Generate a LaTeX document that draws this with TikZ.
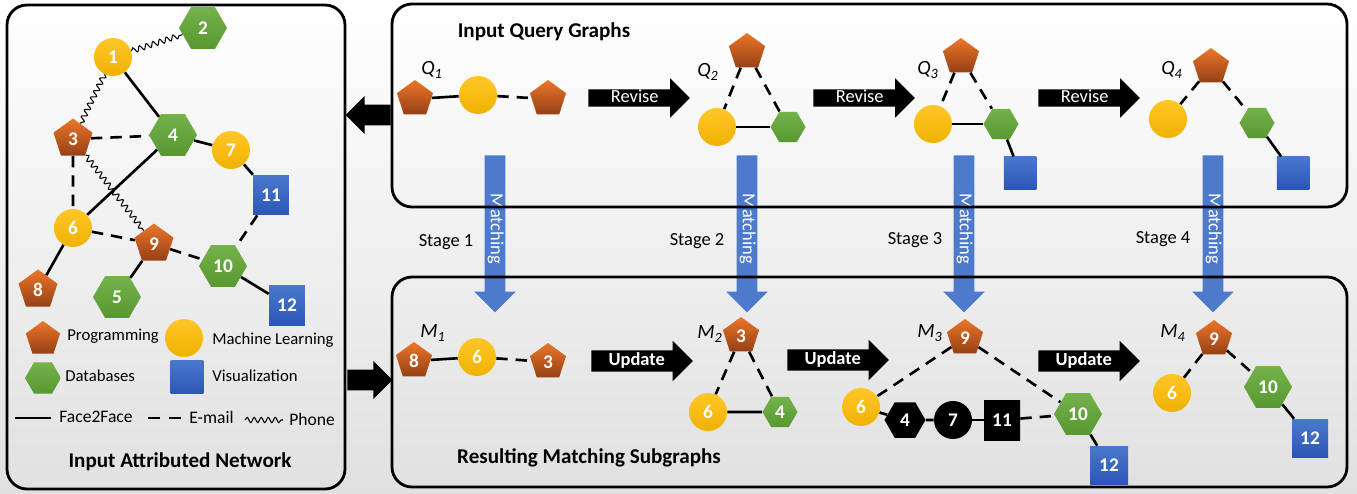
\documentclass[tikz,border=0pt]{standalone}
\usepackage{fontspec}
\setmainfont{Carlito}
\usetikzlibrary{shapes.geometric,shapes.arrows,decorations.pathmorphing}

\definecolor{progA}{RGB}{236,118,40}
\definecolor{progB}{RGB}{150,64,22}
\definecolor{mlA}{RGB}{255,198,40}
\definecolor{mlB}{RGB}{240,178,0}
\definecolor{dbA}{RGB}{116,178,74}
\definecolor{dbB}{RGB}{88,152,48}
\definecolor{visA}{RGB}{74,120,206}
\definecolor{visB}{RGB}{44,86,182}
\definecolor{matchA}{RGB}{78,122,204}
\definecolor{matchB}{RGB}{44,90,190}

\tikzset{
  num/.style={text=white, inner sep=0pt, font=\fontsize{11}{12}\selectfont\bfseries},
  pent/.style={regular polygon, regular polygon sides=5, minimum size=#1, num, top color=progA, bottom color=progB},
  pent/.default=7.6mm,
  ball/.style={circle, minimum size=#1, num, top color=mlA, bottom color=mlB},
  ball/.default=7.6mm,
  hexa/.style={regular polygon, regular polygon sides=6, minimum size=#1, num, top color=dbA, bottom color=dbB},
  hexa/.default=9.6mm,
  sq/.style={rectangle, minimum width=#1, minimum height=#1, num, top color=visA, bottom color=visB},
  sq/.default=7.2mm,
  darknode/.style={top color=black, bottom color=black},
  f2f/.style={line width=1.5pt},
  mail/.style={line width=1.5pt, dash pattern=on 6.5pt off 4.5pt},
  phone/.style={line width=0.6pt, decorate, decoration={snake, amplitude=1.5pt, segment length=4pt}},
  panel/.style={line width=1.6pt, rounded corners=4mm},
  qlab/.style={font=\fontsize{11.5}{13}\selectfont\itshape},
  titletext/.style={font=\fontsize{12}{14}\selectfont\bfseries},
  stagetext/.style={font=\fontsize{10.5}{12}\selectfont},
  legtext/.style={anchor=west, inner sep=0pt, font=\fontsize{9.5}{11}\selectfont},
  blockarrow/.style={single arrow, fill=black, text=white, anchor=tail, minimum height=20.3mm, inner xsep=2pt},
  revarrow/.style={blockarrow, inner ysep=1pt, text height=6.5pt, text depth=1pt, single arrow head extend=2.2mm, font=\fontsize{10.5}{12}\selectfont},
  updarrow/.style={blockarrow, inner ysep=1.3pt, text height=7pt, text depth=2.2pt, single arrow head extend=1.9mm, font=\fontsize{10.5}{12}\selectfont\bfseries},
  matcharrow/.style={single arrow, rotate=-90, anchor=tail, fill=matchA, text=white, minimum height=31.4mm, inner xsep=2pt, inner ysep=1pt, text height=7pt, text depth=2.3pt, single arrow head extend=2.1mm, font=\fontsize{10.5}{12}\selectfont},
  gaparrow/.style={single arrow, fill=black, anchor=tail, minimum height=9mm, inner xsep=0pt, inner ysep=2mm, single arrow head extend=1.7mm}
}

\begin{document}
\begin{tikzpicture}[x=0.02cm, y=-0.02cm]
  \useasboundingbox (0,0) rectangle (1357,494);
  \fill[top color=white, bottom color=gray!24] (0,0) rectangle (1357,494);

  % attributed network
  \node[ball] (a1) at (113,57) {1};
  \node[hexa] (a2) at (203,28) {2};
  \node[pent=8.2mm] (a3) at (73,139) {3};
  \node[hexa] (a4) at (173,135) {4};
  \node[ball] (a7) at (231,150) {7};
  \node[sq, minimum height=8mm] (a11) at (271,195) {11};
  \node[ball] (a6) at (73,228) {6};
  \node[pent=8.2mm] (a9) at (154,244) {9};
  \node[hexa] (a10) at (223,266) {10};
  \node[sq, minimum height=8mm] (a12) at (287,305) {12};
  \node[pent=8.2mm] (a8) at (38,290) {8};
  \node[hexa] (a5) at (117,297) {5};
  \foreach \a/\b in {a1/a4, a4/a7, a7/a11, a4/a6, a10/a12, a6/a8, a9/a5}
    \draw[f2f] (\a) -- (\b);
  \foreach \a/\b in {a3/a4, a3/a6, a6/a9, a9/a10, a11/a10}
    \draw[mail] (\a) -- (\b);
  \foreach \a/\b in {a1/a2, a1/a3, a3/a9}
    \draw[phone] (\a) -- (\b);

  \node[pent=7.2mm] (lp) at (43,339) {};
  \node[legtext] (lpt) at (67,336) {Programming};
  \node[ball] (lm) at (184,338) {};
  \node[legtext] (lmt) at (212,340) {Machine Learning};
  \node[hexa=7.2mm] (ld) at (43,378) {};
  \node[legtext] (ldt) at (65,376) {Databases};
  \node[sq=6.6mm] (lv) at (187,377) {};
  \node[legtext] (lvt) at (212,376) {Visualization};
  \coordinate (f0) at (15,418);
  \coordinate (f1) at (51,418);
  \draw[f2f] (f0) -- (f1);
  \node[legtext, font=\fontsize{10}{12}\selectfont] (ft) at (59,417) {Face2Face};
  \coordinate (e0) at (148,418);
  \coordinate (e1) at (184,418);
  \draw[line width=1.5pt, dash pattern=on 7pt off 5pt] (e0) -- (e1);
  \node[legtext, font=\fontsize{10}{12}\selectfont] (et) at (189,417) {E-mail};
  \coordinate (p0) at (245,420);
  \coordinate (p1) at (283,420);
  \draw[phone] (p0) -- (p1);
  \node[legtext, font=\fontsize{10}{12}\selectfont] (pt) at (289,419) {Phone};
  \node[titletext] (net) at (180,462) {Input Attributed Network};

  % query graphs
  \node[titletext] (qt) at (544,32) {Input Query Graphs};
  \node[qlab] (q1l) at (432,70) {Q\textsubscript{1}};
  \node[pent] (q1a) at (415,99) {};
  \node[ball] (q1b) at (478,95) {};
  \node[pent] (q1c) at (548,99) {};
  \draw[f2f] (q1a) -- (q1b);
  \draw[mail] (q1b) -- (q1c);
  \node[revarrow] (r1) at (588,98) {Revise};

  \node[qlab] (q2l) at (708,72) {Q\textsubscript{2}};
  \node[pent] (q2a) at (747,52) {};
  \node[ball] (q2b) at (717,127) {};
  \node[hexa=7mm] (q2c) at (788,127) {};
  \draw[mail] (q2a) -- (q2b);
  \draw[mail] (q2a) -- (q2c);
  \draw[f2f] (q2b) -- (q2c);
  \node[revarrow] (r2) at (813,98) {Revise};

  \node[qlab] (q3l) at (928,70) {Q\textsubscript{3}};
  \node[pent] (q3a) at (961,57) {};
  \node[ball] (q3b) at (933,124) {};
  \node[hexa=7mm] (q3c) at (1001,124) {};
  \node[sq=6.5mm] (q3d) at (1020,173) {};
  \draw[mail] (q3a) -- (q3b);
  \draw[mail] (q3a) -- (q3c);
  \draw[f2f] (q3b) -- (q3c);
  \draw[f2f] (q3c) -- (q3d);
  \node[revarrow] (r3) at (1038,98) {Revise};

  \node[qlab] (q4l) at (1172,70) {Q\textsubscript{4}};
  \node[pent] (q4a) at (1211,67) {};
  \node[ball] (q4b) at (1168,119) {};
  \node[hexa=7mm] (q4c) at (1257,123) {};
  \node[sq=6.5mm] (q4d) at (1293,173) {};
  \draw[mail] (q4a) -- (q4b);
  \draw[mail] (q4a) -- (q4c);
  \draw[f2f] (q4c) -- (q4d);

  % matching stages
  \foreach \x/\s in {495/1, 747/2, 964/3, 1213/4}
    \node[matcharrow] (match\s) at (\x,155) {Matching};
  \node[stagetext] (st1) at (446,242) {Stage 1};
  \node[stagetext] (st2) at (697,241) {Stage 2};
  \node[stagetext] (st3) at (915,240) {Stage 3};
  \node[stagetext] (st4) at (1163,239) {Stage 4};

  % matching subgraphs
  \node[titletext] (mt) at (589,458) {Resulting Matching Subgraphs};
  \node[qlab] (m1l) at (433,333) {M\textsubscript{1}};
  \node[pent] (m1a) at (414,361) {8};
  \node[ball] (m1b) at (477,357) {6};
  \node[pent] (m1c) at (548,362) {3};
  \draw[f2f] (m1a) -- (m1b);
  \draw[mail] (m1b) -- (m1c);
  \node[updarrow] (u1) at (591,361) {Update};

  \node[qlab] (m2l) at (710,334) {M\textsubscript{2}};
  \node[pent] (m2a) at (741,336) {3};
  \node[ball] (m2b) at (708,412) {6};
  \node[hexa=7mm] (m2c) at (780,412) {4};
  \draw[mail] (m2a) -- (m2b);
  \draw[mail] (m2a) -- (m2c);
  \draw[f2f] (m2b) -- (m2c);
  \node[updarrow] (u2) at (787,360) {Update};

  \node[qlab] (m3l) at (930,333) {M\textsubscript{3}};
  \node[pent] (m3a) at (965,338) {9};
  \node[ball] (m3b) at (861,407) {6};
  \node[hexa=8.2mm, darknode] (m3c) at (905,420) {4};
  \node[ball, darknode] (m3d) at (953,420) {7};
  \node[sq, minimum height=8mm, darknode] (m3e) at (1002,420) {11};
  \node[hexa] (m3f) at (1078,414) {10};
  \node[sq=7.6mm] (m3g) at (1109,465) {12};
  \draw[mail] (m3a) -- (m3b);
  \draw[mail] (m3a) -- (m3f);
  \draw[f2f] (m3b) -- (m3c);
  \draw[f2f] (m3c) -- (m3d);
  \draw[f2f] (m3d) -- (m3e);
  \draw[mail] (m3e) -- (m3f);
  \draw[f2f] (m3f) -- (m3g);
  \node[updarrow] (u3) at (1038,361) {Update};

  \node[qlab] (m4l) at (1173,333) {M\textsubscript{4}};
  \node[pent] (m4a) at (1214,339) {9};
  \node[ball] (m4b) at (1172,393) {6};
  \node[hexa] (m4c) at (1268,387) {10};
  \node[sq, minimum height=7.6mm] (m4d) at (1310,438) {12};
  \draw[mail] (m4a) -- (m4b);
  \draw[mail] (m4a) -- (m4c);
  \draw[f2f] (m4c) -- (m4d);

  % panels and links
  \node[gaparrow, shape border rotate=180] (toleft) at (391,115) {};
  \node[gaparrow] (toright) at (347,380) {};
  \draw[panel] (7,5) rectangle (345,489);
  \draw[panel] (392,4) rectangle (1347,207);
  \draw[panel] (392,277) rectangle (1347,487);
\end{tikzpicture}
\end{document}
